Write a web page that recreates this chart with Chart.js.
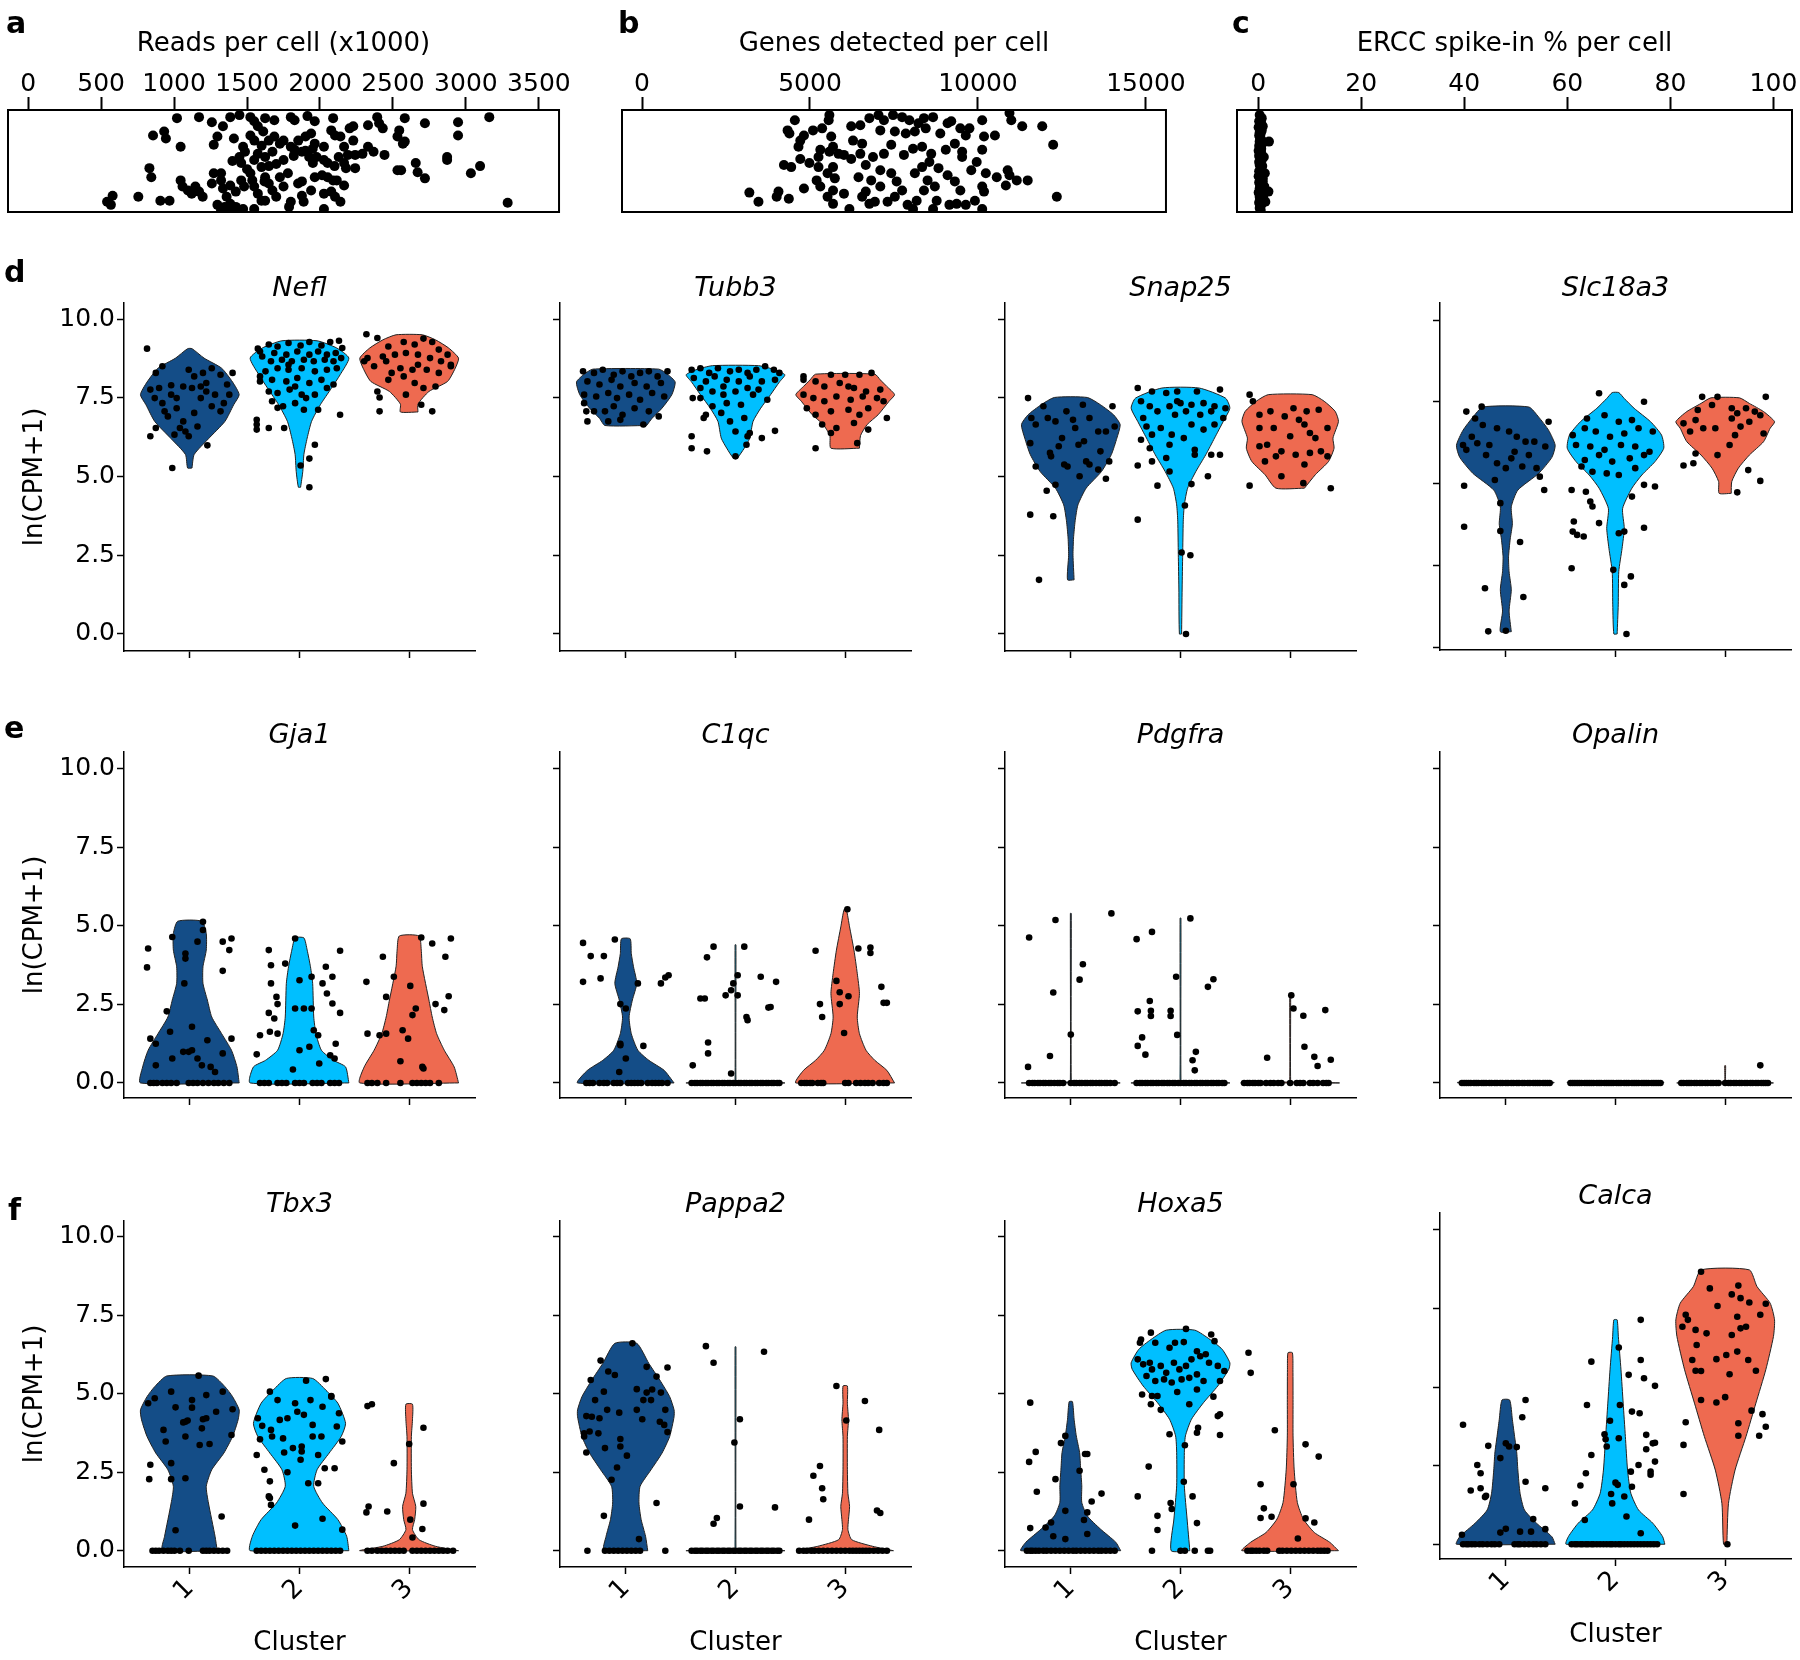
<!DOCTYPE html>
<html>
<head>
<meta charset="utf-8">
<script src="https://cdn.jsdelivr.net/npm/chart.js@4.4.1/dist/chart.umd.min.js"></script>
<style>
html, body { margin: 0; padding: 0; background: #fff; }
#fig { position: relative; width: 1800px; height: 1660px; overflow: hidden; background: #fff; font-family: 'DejaVu Sans', sans-serif; }
#fig canvas { position: absolute; }
.letter { position: absolute; font-weight: bold; font-size: 30px; line-height: 30px; color: #000; }
</style>
</head>
<body>
<div id="fig"></div>
<script>
// ---- top strips: [value, vertical jitter 0..1] ----
const readsTicks = [0, 500, 1000, 1500, 2000, 2500, 3000, 3500];
const genesTicks = [0, 5000, 10000, 15000];
const erccTicks = [0, 20, 40, 60, 80, 100];

const readsCells = [[1020,.92],[1171,.93],[1259,.88],[1335,.84],[1385,.93],[1448,.95],[1523,.93],[1549,.89],[1624,.92],[1687,.9],[1800,.93],[1826,.9],[1914,.94],[1964,.89],[2090,.92],[2228,.84],[2329,.85],[2392,.93],[2405,.87],[2581,.92],[2719,.87],[2946,.88],[3160,.93],[2430,.82],
[856,.75],[932,.79],[944,.72],[1045,.64],[1272,.66],[1297,.74],[1410,.72],[1473,.64],[1523,.75],[1574,.84],[1611,.79],[1649,.7],[1687,.74],[1725,.67],[1800,.64],[1851,.7],[1901,.74],[1939,.77],[1964,.67],[2027,.64],[2077,.8],[2103,.75],[2140,.74],[2165,.64],[2203,.82],[2228,.7],[2329,.64],[2367,.59],[2442,.56],[2531,.74],[2543,.8],[2568,.67],[2581,.69],[2946,.75],
[831,.43],[844,.34],[1272,.38],[1322,.38],[1448,.54],[1460,.48],[1486,.59],[1549,.51],[1574,.57],[1599,.44],[1624,.54],[1674,.59],[1750,.51],[1826,.61],[1876,.59],[1926,.54],[1951,.48],[1977,.54],[2027,.51],[2052,.48],[2128,.54],[2165,.48],[2191,.56],[2241,.56],[2291,.57],[2241,.43],[2178,.43],[2531,.41],[2556,.41],[2656,.48],[2669,.39],[2871,.54],[2871,.51],[3097,.45],[3034,.38],
[1045,.31],[1058,.25],[1095,.21],[1121,.18],[1146,.25],[1171,.2],[1196,.15],[1259,.28],[1322,.31],[1335,.23],[1360,.15],[1385,.26],[1423,.2],[1460,.31],[1523,.38],[1536,.31],[1549,.25],[1574,.18],[1599,.11],[1624,.34],[1649,.28],[1674,.21],[1725,.34],[1750,.25],[1876,.3],[1939,.21],[1964,.34],[2014,.36],[2052,.34],[2090,.31],[2115,.31],[2027,.18],[2077,.2],[2103,.15],[2140,.1],[2165,.26],[2719,.33],[3286,.09],[755,.15],[579,.16],[541,.1],[567,.07],[906,.11],[969,.11],[1876,.16],[1888,.1],[1800,.1],
[1297,.07],[1347,.05],[1385,.08],[1423,.05],[1473,.03],[1549,.03],[1624,.11],[1788,.05],[2027,.03],[1397,.02],[1322,.02],
[1600,.65],[1700,.47],[1750,.7],[1900,.6],[1550,.7],[1650,.45],[1780,.38],[1820,.55],[1950,.62],[2100,.45],[1500,.42],[1400,.5],[1480,.25],[1620,.3],[1700,.15],[1850,.28]];

const genesCells = [[4549,.9],[4333,.8],[4387,.77],[4820,.75],[4711,.7],[4657,.64],[5090,.8],[5361,.82],[5577,.95],[5556,.9],[5632,.74],[5686,.64],[5307,.61],[5577,.59],[5848,.57],[6011,.56],[6227,.52],[6498,.57],[6227,.84],[6498,.85],[6768,.92],[7039,.95],[7201,.9],[7472,.95],[7742,.93],[7959,.9],[8229,.87],[8392,.92],[8663,.93],[7093,.8],[7526,.79],[7851,.77],[8121,.79],[8446,.82],[8879,.77],[9096,.87],[9204,.89],[9475,.82],[9746,.82],[9637,.75],[10126,.9],[10938,.97],[10992,.9],[11317,.84],[11913,.84],[12238,.66],[10180,.74],[10505,.75],[10126,.61],[9529,.59],[9529,.54],[9962,.49],[9312,.67],[9042,.61],[8608,.57],[8337,.64],[8067,.62],[7796,.56],[7418,.66],[7201,.57],[6876,.54],[6552,.67],[6281,.7],[5253,.54],[4711,.52],[4224,.46],[4441,.44],[4982,.48],[5253,.44],[5686,.44],[5523,.38],[5740,.33],[5198,.31],[4820,.23],[5307,.25],[5686,.21],[6011,.18],[6660,.46],[6444,.34],[6822,.31],[7093,.41],[7418,.38],[7580,.3],[7742,.21],[8121,.38],[8337,.44],[8554,.49],[8825,.43],[9096,.36],[9312,.3],[9475,.21],[9800,.41],[10234,.38],[10559,.34],[10884,.41],[10938,.36],[11155,.31],[11480,.31],[10830,.26],[10126,.25],[10180,.2],[9909,.11],[9637,.07],[9366,.08],[9150,.07],[8771,.11],[8663,.03],[8175,.11],[8067,.03],[7905,.07],[7526,.15],[7309,.1],[6931,.1],[6768,.08],[6552,.15],[6173,.03],[5523,.15],[5686,.08],[4008,.15],[4062,.2],[4370,.13],[3195,.19],[3466,.1],[10126,.03],[12347,.15],[8500,.31],[8392,.21],[8717,.25],[7093,.25],[6660,.2]];

const erccCells = [[0.3,.95],[0.5,.91],[0.2,.89],[0.6,.87],[0.4,.85],[0.1,.83],[0.7,.8],[0.9,.84],[0.3,.78],[0.5,.77],[0.2,.75],[0.4,.72],[0.6,.71],[0.3,.69],[2.1,.69],[0.8,.67],[0.2,.65],[0.5,.63],[0.4,.61],[0.1,.6],[0.6,.58],[0.3,.56],[1.1,.54],[0.5,.53],[0.7,.51],[0.2,.49],[0.4,.47],[0.3,.46],[0.6,.44],[0.5,.42],[0.2,.4],[1.3,.38],[0.4,.37],[0.3,.35],[0.9,.33],[0.5,.31],[0.2,.29],[0.7,.28],[0.4,.26],[1.2,.25],[0.3,.23],[0.6,.21],[2.0,.2],[0.1,.19],[0.5,.17],[0.3,.15],[0.4,.13],[0.8,.12],[1.4,.1],[0.2,.09],[0.6,.07],[0.4,.05],[0.3,.04],[0.5,.02],[0.7,.92],[0.6,.62],[0.8,.45],[0.9,.3],[1.0,.14],[0.2,.55],[0.1,.35],[0.3,.1]];

// ---- violins ----
const clusters = ['1', '2', '3'];
const yTicks = [0, 2.5, 5, 7.5, 10];
// outlines: [ln(CPM+1), half width in cluster units] from bottom to top
const neflShape = [
  [[5.27,.02],[5.7,.04],[6.2,.17],[6.75,.32],[7.28,.4],[7.6,.45],[8.0,.39],[8.44,.29],[8.76,.13],[9.06,.02]],
  [[4.66,.01],[5.16,.03],[5.7,.04],[6.22,.07],[6.75,.11],[7.28,.19],[7.8,.29],[8.23,.37],[8.76,.45],[9.08,.34],[9.31,.16]],
  [[7.05,.08],[7.3,.08],[7.7,.18],[8.02,.35],[8.44,.42],[8.76,.45],[9.08,.36],[9.34,.24],[9.5,.12]]];
const tubb3Shape = [
  [[6.62,.19],[6.85,.24],[7.17,.33],[7.6,.42],[8.0,.45],[8.25,.38],[8.41,.3]],
  [[5.59,.02],[5.9,.08],[6.22,.13],[6.75,.16],[7.17,.23],[7.6,.32],[8.0,.4],[8.23,.45],[8.39,.36],[8.52,.21]],
  [[5.9,.13],[6.3,.14],[6.65,.2],[6.96,.3],[7.39,.4],[7.6,.45],[7.86,.38],[8.07,.32],[8.25,.27]]];
const snap25Shape = [
  [[1.72,.03],[2.5,.02],[3.05,.025],[3.6,.04],[4.1,.065],[4.63,.14],[5.16,.28],[5.7,.37],[6.22,.42],[6.65,.45],[6.96,.39],[7.28,.27],[7.51,.15]],
  [[0,.01],[1.46,.015],[2.52,.02],[3.58,.025],[4.1,.035],[4.63,.065],[5.16,.14],[5.69,.23],[6.22,.31],[6.75,.39],[7.17,.45],[7.49,.41],[7.81,.17]],
  [[4.63,.13],[5.06,.23],[5.48,.35],[5.9,.4],[6.22,.39],[6.75,.44],[7.07,.41],[7.39,.31],[7.6,.2]]];
const slc18a3Shape = [
  [[0.47,.05],[1.1,.03],[1.75,.05],[2.3,.03],[2.76,.025],[3.3,.04],[3.77,.06],[4.29,.05],[4.8,.11],[5.31,.3],[5.8,.42],[6.17,.45],[6.63,.39],[7.03,.3],[7.34,.21]],
  [[0.4,.015],[1.29,.025],[2.31,.03],[3.02,.06],[3.63,.08],[4.24,.065],[4.86,.15],[5.26,.24],[5.67,.36],[6.08,.44],[6.48,.42],[6.89,.32],[7.3,.17],[7.6,.08],[7.78,.03]],
  [[4.7,.055],[5.06,.06],[5.47,.12],[5.87,.22],[6.28,.35],[6.69,.41],[6.89,.45],[7.2,.35],[7.45,.22],[7.62,.13]]];
const gja1Shape = [
  [[0,.45],[0.51,.43],[1.04,.38],[1.57,.29],[2.1,.2],[2.64,.16],[3.17,.12],[3.7,.12],[4.23,.15],[4.76,.15],[5.15,.11]],
  [[0,.45],[0.51,.42],[0.72,.31],[1.04,.2],[1.57,.15],[2.1,.13],[3.17,.12],[3.7,.1],[4.23,.07],[4.62,.04]],
  [[0,.45],[0.51,.41],[1.04,.32],[1.57,.25],[2.1,.21],[2.64,.18],[3.7,.12],[4.23,.11],[4.68,.09]]];
const c1qcShape = [
  [[0,.44],[0.4,.35],[0.72,.21],[1.04,.11],[1.57,.05],[2.1,.03],[2.64,.06],[3.17,.1],[3.7,.07],[4.12,.05],[4.59,.04]],
  [[0,.45],[0.03,.02],[0.1,.004],[4.4,.004]],
  [[0,.45],[0.4,.38],[0.72,.27],[1.04,.19],[1.57,.13],[2.1,.11],[2.85,.13],[3.49,.11],[4.23,.08],[4.97,.04],[5.53,.01]]];
const pdgfraShape = [
  [[0,.45],[0.03,.02],[0.1,.004],[5.4,.004]],
  [[0,.45],[0.03,.02],[0.1,.004],[5.25,.004]],
  [[0,.45],[0.03,.02],[0.1,.004],[2.8,.004]]];
const opalinShape = [
  [[0,.44],[0.02,.44]],
  [[0,.44],[0.02,.44]],
  [[0,.44],[0.03,.02],[0.1,.004],[0.55,.004]]];
const tbx3Shape = [
  [[0,.25],[0.46,.23],[1.52,.17],[2.05,.15],[2.58,.2],[3.11,.31],[3.64,.39],[4.17,.44],[4.49,.45],[4.91,.39],[5.23,.32],[5.57,.21]],
  [[0,.45],[0.46,.43],[0.99,.35],[1.52,.21],[2.05,.13],[2.58,.16],[3.11,.27],[3.64,.38],[4.06,.42],[4.7,.35],[5.12,.24],[5.49,.12]],
  [[0,.45],[0.14,.24],[0.35,.09],[0.67,.03],[0.99,.05],[1.41,.06],[1.83,.03],[2.58,.02],[3.64,.02],[4.17,.03],[4.67,.03]]];
const pappa2Shape = [
  [[0,.2],[0.46,.18],[0.99,.14],[1.52,.12],[2.05,.13],[2.58,.23],[3.11,.33],[3.64,.4],[4.27,.44],[4.49,.44],[4.91,.4],[5.44,.31],[5.97,.21],[6.61,.1]],
  [[0,.45],[0.03,.02],[0.1,.004],[6.5,.004]],
  [[0,.44],[0.14,.25],[0.35,.06],[0.67,.025],[0.99,.03],[1.41,.04],[1.83,.025],[2.58,.02],[3.64,.02],[4.17,.03],[4.7,.02],[5.25,.02]]];
const hoxa5Shape = [
  [[0,.455],[0.27,.41],[0.69,.27],[1.11,.15],[1.54,.1],[2.07,.1],[2.6,.09],[3.13,.08],[3.66,.05],[4.19,.03],[4.75,.015]],
  [[0,.085],[1.01,.06],[2.07,.035],[3.13,.035],[3.66,.045],[4.19,.1],[4.72,.21],[5.25,.34],[5.78,.44],[5.99,.45],[6.42,.38],[6.73,.27],[7.03,.13]],
  [[0,.44],[0.27,.36],[0.58,.22],[1.01,.12],[1.54,.065],[2.6,.036],[3.66,.026],[4.72,.026],[5.78,.025],[6.31,.02]]];
const calcaShape = [
  [[0,.45],[0.24,.42],[0.67,.28],[1.09,.17],[1.62,.13],[2.36,.11],[2.9,.1],[3.43,.08],[3.96,.06],[4.59,.035]],
  [[0,.45],[0.24,.43],[0.67,.34],[1.09,.21],[1.62,.14],[2.36,.11],[3.43,.09],[4.49,.07],[5.55,.05],[6.61,.026],[7.14,.015]],
  [[0,.015],[1.3,.03],[2.36,.09],[3.43,.19],[4.49,.28],[5.55,.37],[6.61,.44],[7.14,.45],[7.67,.41],[8.2,.29],[8.73,.22]]];

// cells: flat [jitter offset, ln(CPM+1)] pairs per cluster
const neflDots = [
  [-.39,9.06,-.25,8.5,-.31,8.29,-.17,7.9,-.36,7.76,-.32,7.49,-.25,7.33,-.17,7.6,-.12,7.17,-.23,7.07,-.06,7.86,-.01,8.39,.04,8.18,.12,8.29,.15,7.97,.2,8.44,.28,8.23,.39,8.29,.34,7.92,.36,7.6,.31,7.33,.28,7.07,.2,7.23,.1,7.49,.04,7.02,-.06,6.75,-.04,6.43,-.01,6.28,-.09,6.54,-.2,6.91,-.31,6.54,-.36,6.28,.16,5.99,-.16,5.27,.07,6.59,-.14,6.33,.02,7.81,-.12,7.49,.15,7.7,.23,7.6,-.28,7.81,.1,7.86],
  [-.38,9.06,-.28,9.19,-.2,9.13,-.1,9.24,.01,9.16,.09,9.27,.2,9.16,.28,9.27,.36,9.31,.39,9.08,.33,8.92,.25,8.87,.17,8.97,.09,8.87,-.02,8.97,-.12,8.87,-.23,8.92,-.34,8.81,-.36,8.97,-.26,8.66,-.16,8.71,-.07,8.66,.04,8.71,.13,8.66,.23,8.71,.31,8.66,.38,8.76,.34,8.44,.25,8.39,.14,8.34,.02,8.44,-.1,8.39,-.2,8.44,-.31,8.34,-.36,8.18,-.25,8.07,-.12,8.02,-.02,8.13,.09,7.97,.2,8.07,.31,7.92,-.36,8.02,-.28,7.7,-.2,7.65,-.09,7.76,.02,7.6,.14,7.6,.25,7.81,-.25,7.39,-.15,7.23,-.04,7.33,.04,7.12,.17,7.12,-.2,7.18,.06,7.49,.37,6.96,-.39,6.8,-.39,6.65,-.39,6.49,-.28,6.54,-.14,6.54,.14,6.01,.09,5.57,.01,5.35,.09,4.66,-.1,8.55,-.04,7.86],
  [-.39,9.52,-.29,9.4,-.19,9.13,-.05,9.27,.05,9.19,.13,9.38,.21,9.27,.27,9.03,.35,8.87,.38,8.55,.29,8.66,.19,8.76,.08,8.87,-.03,8.92,-.13,8.87,-.24,8.81,-.38,8.76,-.41,8.66,-.32,8.5,-.21,8.66,-.08,8.44,.03,8.39,.16,8.39,.27,8.29,.38,8.5,-.19,8.07,-.05,8.18,.05,7.97,.13,7.81,.24,7.86,-.29,7.7,-.27,7.51,-.27,7.07,.21,7.07,.11,7.28,-.03,7.6,-.16,8.29,.08,8.55]];
const tubb3Dots = [
  [-.39,8.34,-.29,8.29,-.21,8.39,-.11,8.23,-.03,8.34,.05,8.18,.13,8.29,.21,8.34,.29,8.18,.38,8.34,-.35,8.02,-.24,7.92,-.13,8.07,-.05,7.86,.08,7.97,.19,7.86,.32,7.97,-.38,7.6,-.27,7.54,-.16,7.65,-.08,7.49,.03,7.6,.13,7.44,.24,7.65,.35,7.54,-.38,7.33,-.36,7.07,-.35,6.75,-.19,7.07,-.11,7.23,-.03,6.96,.08,7.17,.21,7.07,.3,6.91,-.16,6.75,-.05,6.8,.16,6.65,-.29,7.07],
  [-.4,8.39,-.32,8.44,-.24,8.29,-.16,8.44,-.05,8.34,.03,8.39,.11,8.29,.19,8.39,.27,8.5,.35,8.39,.4,8.29,-.38,8.13,-.27,8.02,-.19,8.18,-.08,8.07,.03,8.02,.13,8.18,.24,8.02,.36,8.07,-.32,7.81,-.21,7.7,-.11,7.86,0,7.7,.11,7.81,.21,7.76,.29,7.44,-.39,7.49,-.32,7.49,-.21,7.23,-.08,7.33,.05,7.28,-.27,6.96,-.29,6.86,-.13,7.02,-.05,6.75,.08,6.86,0,6.43,.13,6.38,.11,6.28,.24,6.22,.36,6.45,-.4,6.28,-.4,5.9,-.26,5.8,0,5.64,.1,6.01,-.11,7.6,.16,7.6],
  [-.38,8.18,-.38,8.07,-.27,8.02,-.13,8.23,0,8.23,.13,8.23,.24,8.29,-.19,7.86,-.05,7.97,.08,7.81,.19,7.7,.32,7.76,-.38,7.6,-.29,7.49,-.19,7.39,-.08,7.54,.05,7.44,.16,7.54,.29,7.49,.35,7.39,-.35,7.17,-.27,6.96,-.13,7.07,.03,7.12,.13,6.96,.21,7.17,.38,6.86,-.21,6.65,-.08,6.54,.08,6.7,.21,6.49,-.13,6.38,-.27,5.9,.11,6.06,.03,7.86]];
const snap25Dots = [
  [-.39,7.49,-.25,7.23,-.36,6.86,-.32,6.65,-.21,6.86,-.14,6.75,-.08,6.22,.02,6.8,.11,7.28,.17,6.86,.04,6.54,.12,6.12,.25,6.43,.32,6.43,.4,6.59,.38,7.23,-.37,6.06,-.19,5.75,-.18,5.64,-.32,5.32,-.06,5.38,-.03,5.32,.08,5.01,.14,5.48,.17,5.38,.27,5.8,.35,5.48,.25,5.22,.32,4.93,-.14,4.74,-.22,4.55,-.37,3.79,-.16,3.74,-.29,1.72,-.04,7.07,-.11,5.96,.07,6.01],
  [-.39,7.81,-.26,7.7,-.13,7.65,-.03,7.7,.15,7.7,.36,7.76,-.36,7.39,-.28,7.23,-.1,7.23,0,7.33,.1,7.28,.21,7.33,.31,7.23,.41,7.17,-.34,6.86,-.21,7.07,-.05,6.96,.05,7.07,.18,6.96,.28,7.07,.39,6.86,-.31,6.59,-.18,6.54,-.08,6.33,.1,6.65,.21,6.49,.31,6.65,-.36,6.17,-.26,6.33,-.1,6.01,.03,6.22,.13,5.85,.28,5.69,.36,5.69,-.28,5.9,-.26,5.48,-.39,5.35,-.13,5.59,-.1,5.16,.13,5.69,.25,5.01,-.21,4.71,.1,4.76,-.39,3.63,.04,4.08,.01,2.59,.09,2.5,.05,0,-.03,7.39],
  [-.37,7.6,-.34,7.39,-.18,7.07,.03,7.17,.15,7.07,.26,7.12,-.05,6.91,.08,6.8,.13,6.65,-.28,6.96,-.15,6.54,0,6.28,.18,6.38,.34,6.54,-.28,5.96,-.21,6.01,-.08,5.8,.05,5.69,.18,5.75,.28,5.8,.34,5.64,-.23,5.48,-.13,5.64,.13,5.38,-.08,5.01,.12,4.79,-.37,4.71,.37,4.63,-.28,6.54,.23,6.22]];
const slc18a3Dots = [
  [-.36,7.2,-.22,7.35,-.28,6.99,-.21,6.79,-.39,6.18,-.36,6.03,-.26,6.23,-.15,6.18,-.18,5.87,-.08,6.69,.03,6.59,.1,6.43,.18,6.28,.26,6.28,.36,6.13,.39,6.89,.08,5.97,-.08,5.62,0,5.47,.15,5.52,.28,5.47,.31,5.21,-.1,5.11,-.38,4.93,.35,4.8,-.05,4.4,-.38,3.68,-.05,3.55,.13,3.21,-.19,1.8,.16,1.53,-.16,.48,0,.5,-.31,6.43,.05,5.77,.21,5.87],
  [-.15,7.76,.26,7.5,-.26,6.99,-.1,7.09,.03,6.89,.15,6.94,-.39,6.48,-.28,6.69,-.18,6.59,-.05,6.43,.08,6.53,.21,6.69,.34,6.59,-.36,6.18,-.23,6.13,-.1,6.03,.05,6.18,.18,6.13,.31,5.97,-.28,5.72,-.15,5.87,-.03,5.67,.13,5.77,.26,5.87,-.31,5.52,-.21,5.36,-.08,5.31,.03,5.26,.18,5.47,.26,4.96,.36,4.91,-.4,4.8,-.27,4.75,-.23,4.45,-.21,4.3,.15,4.6,-.38,3.84,-.39,3.53,-.35,3.43,-.29,3.38,-.15,3.79,.03,3.48,.08,3.53,.26,3.65,-.4,2.41,-.02,2.36,.14,2.16,.08,1.9,.1,.4],
  [-.21,7.65,-.07,7.65,.37,7.65,-.25,7.25,-.12,7.4,.06,7.3,.19,7.3,.11,7.15,.27,7.2,-.38,6.84,-.32,6.59,-.27,6.94,-.2,6.69,-.09,6.69,.06,6.99,.14,6.74,.22,6.89,.35,6.53,.09,6.48,.32,7.09,.04,6.18,-.27,5.92,-.29,5.62,-.38,5.55,-.07,5.87,.21,5.41,.32,5.08,.11,4.73]];
const gja1Dots = [
  [-.38,4.28,-.39,3.68,-.36,1.41,-.31,1.25,-.31,.56,-.21,2.28,-.18,1.63,-.16,4.65,-.16,.78,-.06,.99,-.05,3.17,-.04,3.96,-.04,4.12,-.01,.99,.02,1.79,.02,1.04,.07,.78,.11,.56,.12,4.87,.12,5.13,.07,4.5,.16,1.36,.19,.51,.23,.35,.3,.94,.3,3.57,.3,4.5,.38,4.6,.36,4.23,.38,1.41],
  [-.39,.91,-.36,1.52,-.28,2.23,-.27,1.63,-.26,3.17,-.26,3.75,-.23,2.05,-.21,2.74,-.2,2.51,-.28,4.23,-.2,1.57,-.13,3.8,-.06,.43,-.04,2.37,0,3.27,0,1.04,-.04,4.6,.04,2.37,.09,1.15,.11,2.37,.11,3.38,.13,1.68,.17,1.52,.18,.62,.21,3.17,.24,3.7,.25,2.85,.28,.88,.3,3.38,.32,.78,.3,2.53,.33,1.25,.37,2.23,.37,4.21],
  [-.39,3.22,-.38,1.57,-.27,1.52,-.24,4.02,-.21,1.57,-.21,2.74,-.14,3.38,-.08,.69,-.06,1.68,-.01,1.41,.01,3.09,.03,2.16,.06,2.37,.11,4.63,.12,.51,.13,.46,.21,4.44,.24,2.51,.33,4.02,.32,2.32,.36,2.76,.38,4.6]];
const c1qcDots = [
  [-.39,4.46,-.32,4.04,-.2,4.04,-.1,4.57,-.39,3.22,-.23,3.33,.11,3.17,.32,3.17,.36,3.36,.39,3.43,-.05,2.51,0,2.37,-.05,1.25,-.05,1.2,.16,1.18,0,.78,-.06,.35],
  [-.39,.56,-.32,2.69,-.28,2.69,-.26,4.0,-.2,4.34,-.25,.94,-.25,1.29,-.09,2.79,-.04,2.95,-.02,3.17,.02,3.43,.02,2.79,.08,4.34,-.04,.3,.1,2.1,.11,2.0,.23,3.38,.3,2.4,.32,2.42,.37,3.22],
  [-.27,4.21,-.23,2.51,-.21,2.1,-.08,3.25,-.05,2.89,-.05,2.51,.03,2.76,.02,5.53,-.01,1.59,.12,4.28,.23,4.31,.23,4.14,.33,3.06,.35,2.55,.38,2.55]];
const pdgfraDots = [
  [-.38,4.63,-.14,5.19,-.16,2.88,0,1.54,.08,3.29,.11,3.78,.37,5.4,-.19,.86,-.39,.51],
  [-.4,4.58,-.26,4.81,-.39,2.28,-.28,2.61,-.27,2.3,-.27,2.13,-.09,2.3,-.09,2.13,-.04,3.38,-.03,1.53,.09,5.24,.25,3.06,.3,3.3,-.39,1.18,-.35,1.45,-.32,.9,.14,.99,.11,.72,.13,.4],
  [-.21,.8,.01,2.79,.03,2.37,.12,2.14,.13,1.15,.22,.83,.25,.54,.32,2.32,.37,.74]];
const opalinDots = [[], [], [.32,.56]];
const tbx3Dots = [
  [.08,5.58,-.38,4.7,-.32,4.86,-.17,5.07,.15,4.96,.3,5.07,.39,4.51,-.13,4.57,.02,4.56,.02,4.8,-.06,4.09,-.02,4.15,.12,4.19,.15,4.22,.24,4.43,.11,3.9,-.24,3.85,-.22,3.48,-.04,3.64,.09,3.37,.18,3.4,.38,3.69,-.36,2.74,-.37,2.28,-.17,2.79,-.17,2.28,-.04,2.31,.29,1.09,-.13,.65,-.04,4.11],
  [-.27,5.07,.06,5.42,.24,5.47,-.2,4.8,-.04,4.7,.1,4.8,.29,4.91,.29,4.93,-.38,4.22,-.34,3.98,-.26,3.85,-.18,4.17,-.11,4.22,-.02,4.43,.04,4.33,.12,4.01,.21,4.59,.36,4.38,.34,3.96,.39,3.48,-.36,3.55,-.25,3.64,-.15,3.58,-.06,3.27,.02,3.32,.02,3.16,.12,3.64,.2,3.64,.17,3.05,.01,2.9,-.14,3.13,-.39,3.05,-.32,2.58,-.27,2.21,-.28,1.73,-.26,1.46,-.27,1.68,-.11,2.5,.08,2.15,.17,2.15,.23,2.63,.32,2.63,-.04,.8,.21,1.02,.39,.67],
  [-.38,4.61,-.34,4.67,.13,3.92,0,3.4,-.14,2.79,-.37,1.41,-.39,1.22,-.2,1.25,.13,1.5,.01,.99,.12,.69,.03,.42]];
const pappa2Dots = [
  [.06,6.61,-.23,6.06,.38,5.84,.19,5.86,-.16,5.71,-.1,5.6,-.32,5.44,.28,5.55,-.2,5.07,.1,5.15,.24,5.14,.19,5.04,.32,5.04,-.28,4.8,.16,4.8,.23,4.8,-.17,4.49,.1,4.49,.36,4.49,-.06,4.4,-.36,4.29,-.31,4.27,-.24,4.22,.15,4.19,.31,4.11,.35,4.01,-.38,3.74,-.33,3.8,-.25,3.74,.38,3.78,-.38,3.64,-.05,3.56,-.19,3.27,-.05,3.32,.01,3.03,-.36,3.13,-.08,2.65,-.13,2.26,.28,1.52,-.2,1.11,.12,.37],
  [-.27,6.52,-.2,5.99,.26,6.34,.04,4.19,-.01,3.45,.04,1.41,.36,1.38,-.17,1.04,-.2,.86],
  [-.08,5.25,.18,4.77,.01,4.15,.31,3.85,-.23,2.7,-.29,2.39,-.21,1.99,-.2,1.64,.29,1.28,.32,1.2,-.33,.99]];
const hoxa5Dots = [
  [-.37,4.72,-.32,3.15,-.38,2.83,-.31,1.88,-.14,2.28,-.09,3.43,-.05,3.66,.13,3.08,.15,3.08,.08,2.55,.19,1.57,.28,1.82,.15,1.22,.12,.98,-.05,1.27,-.18,.9,-.23,.74,-.37,.72,-.16,.46,-.05,.37,.15,.53],
  [-.27,6.95,-.36,6.73,-.37,6.63,-.23,6.63,-.1,6.47,-.05,6.63,.05,7.07,.03,6.65,.15,6.36,.23,6.26,.28,6.89,.31,6.68,-.39,6.1,-.34,5.94,-.28,5.99,-.26,5.78,-.18,5.89,-.13,5.67,-.06,5.99,-.01,5.78,.05,5.89,.1,6.1,.18,6.2,.26,5.99,.34,5.89,.4,5.73,-.31,5.57,-.23,5.41,-.15,5.46,-.08,5.36,.01,5.46,.08,5.51,.15,5.62,.21,5.41,.36,5.41,-.35,4.98,-.26,4.93,-.21,4.93,-.03,5.06,.15,5.14,.3,4.91,.08,4.67,-.27,4.67,-.18,4.49,.34,4.29,.36,4.35,.16,3.92,.15,3.76,-.1,3.71,.36,3.69,.04,3.36,-.29,2.68,.03,2.2,-.39,1.73,-.09,1.52,.11,1.73,-.21,1.11,-.08,1.33,-.21,.66,.15,.88],
  [-.38,6.31,-.36,5.67,-.14,3.84,.14,3.39,.26,3.0,-.27,2.12,.03,2.12,-.24,1.35,-.27,1.04,-.17,1.08,.14,1.03,.22,.9,.07,.39]];
const calcaDots = [
  [-.39,3.8,.18,4.59,.15,4.04,0,3.21,.03,3.11,.1,3.09,-.16,3.13,-.05,2.74,-.26,2.52,-.23,2.26,.18,1.99,-.32,1.71,-.23,1.78,-.19,1.5,-.18,1.54,.36,1.78,.25,.8,0,.49,.13,.4,.36,.48,-.4,.3,-.05,.37,.23,.4],
  [.23,7.14,.03,6.26,-.22,5.81,.23,5.86,.12,5.39,.26,5.28,.36,5.04,-.26,4.43,.04,4.43,.15,4.22,.22,4.17,-.05,3.93,.28,3.48,-.1,3.5,.03,3.37,-.09,3.34,.34,3.21,.36,3.23,.28,3.02,-.22,2.84,-.08,3.11,.36,2.63,.21,2.52,-.27,2.26,.14,2.31,.32,2.31,.32,2.21,0,1.96,.02,1.89,-.32,1.87,.15,1.83,-.04,1.6,.08,1.52,-.03,1.3,-.37,1.3,.1,.88,-.28,.77,.23,.35],
  [-.22,8.67,-.14,8.14,.12,8.23,.06,7.95,.14,7.83,.22,7.69,.37,7.65,-.07,7.58,.11,7.24,.32,7.3,-.36,7.3,-.34,7.14,-.39,6.92,-.27,6.82,-.17,6.71,.06,6.66,.14,6.87,.19,6.92,-.26,6.34,.11,6.13,.01,6.02,-.3,5.86,-.08,5.89,.21,5.86,-.27,5.52,-.22,5.51,.28,5.52,.04,5.41,-.22,4.59,0,4.68,-.08,4.51,.24,4.25,.34,4.14,-.36,3.88,.12,3.85,.37,3.74,.31,3.45,.12,3.45,-.38,3.16,-.38,1.6,.02,0]];

// jitter offsets of cells sitting at exactly 0
const noZeros = [[], [], []];
const gja1Zero = [[-.36,-.3,-.25,-.17,-.12,-.01,.07,.12,.17,.26,.36,-.33,-.21,.03,.22,.31],[-.36,-.28,-.2,-.12,-.04,.04,.12,.2,.28,.36,-.32,-.16,.0,.16,.32],[-.38,-.29,-.21,-.08,.03,.11,.19,.27,-.34,.07,.15]];
const c1qcZero = [[-.36,-.3,-.24,-.17,-.11,-.05,.02,.08,.14,.2,.27,.33,.38,-.33,-.2,-.08,.05,.11,.24,.3],[-.4,-.35,-.3,-.25,-.2,-.15,-.1,-.05,0,.05,.1,.15,.2,.25,.3,.35,.4,-.37,-.32,-.27,-.22,-.17,-.12,-.07,-.02,.03,.08,.13,.18,.23,.28,.33,.38],[-.4,-.35,-.3,-.25,-.2,0,.03,.1,.18,.25,.35,.38,-.37,-.32,-.22,.14,.21,.31]];
const pdgfraZero = [[-.38,-.33,-.28,-.23,-.18,-.12,-.07,0,.05,.1,.15,.2,.26,.31,.36,.4,-.35,-.3,-.25,-.2,-.15,-.1,.03,.08,.13,.18,.23,.28,.33],[-.4,-.35,-.3,-.25,-.2,-.15,-.1,-.05,0,.05,.1,.15,.2,.25,.3,.35,.4,-.37,-.32,-.27,-.22,-.17,-.12,-.07,-.02,.03,.08,.13,.18,.23,.28,.33,.38],[-.42,-.37,-.32,-.27,-.22,-.15,-.08,0,.06,.12,.18,.25,.3,.35,-.39,-.34,-.29,-.18,-.11,.09,.21,.33]];
const opalinZero = [[-.4,-.36,-.32,-.27,-.22,-.18,-.13,-.08,-.03,.02,.07,.12,.17,.22,.27,.31,.36,.4,-.38,-.34,-.29,-.25,-.2,-.15,-.1,-.05,0,.05,.1,.15,.2,.25,.29,.34,.38],[-.41,-.37,-.33,-.28,-.24,-.2,-.15,-.1,-.06,-.02,.03,.08,.12,.17,.21,.26,.3,.35,.39,.41,-.39,-.35,-.31,-.26,-.22,-.17,-.13,-.08,-.04,.01,.05,.1,.15,.19,.24,.28,.33,.37],[-.4,-.35,-.31,-.26,-.21,-.16,-.11,-.06,0,.05,.1,.15,.2,.25,.3,.35,.39,-.38,-.33,-.28,-.23,-.18,-.13,-.08,.03,.08,.13,.18,.23,.28,.33,.37]];
const tbx3Zero = [[-.34,-.28,-.2,-.14,-.09,-.01,.12,.18,.26,.34,-.31,-.24,-.17,.15,.22,.3],[-.39,-.31,-.23,-.15,-.07,.01,.09,.17,.25,.33,-.35,-.27,-.19,-.11,-.03,.05,.13,.21,.29,.37],[-.38,-.29,-.21,-.13,-.05,.03,.11,.19,.27,.35,.4,-.34,-.25,-.17,-.09,.07,.15,.23,.31]];
const pappa2Zero = [[-.35,-.19,-.11,-.03,.05,.13,.36,-.15,-.07,.01,.09],[-.4,-.35,-.3,-.25,-.2,-.15,-.1,-.05,0,.05,.1,.15,.2,.25,.3,.35,.4,-.37,-.32,-.27,-.22,-.17,-.12,-.07,-.02,.03,.08,.13,.18,.23,.28,.33,.38],[-.42,-.35,-.28,-.2,-.12,-.04,.04,.1,.16,.22,.3,.38,-.38,-.31,-.24,-.16,-.08,.0,.07,.13,.19,.26,.34]];
const hoxa5Zero = [[-.4,-.35,-.29,-.22,-.14,-.06,.02,.09,.17,.25,.32,.4,-.37,-.32,-.25,-.18,-.1,-.02,.05,.13,.21,.28,.36],[-.26,0,.04,.13,.25,.27],[-.39,-.34,-.28,-.21,-.1,-.03,.05,.13,.21,.28,.34,-.36,-.31,-.24,-.07,.01,.09,.17,.25,.31]];
const calcaZero = [[-.39,-.34,-.28,-.21,-.13,-.06,.08,.13,.21,.28,.36,-.36,-.31,-.24,-.17,-.1,.11,.17,.25,.32],[-.4,-.35,-.3,-.25,-.2,-.14,-.08,-.03,.03,.08,.14,.2,.26,.32,.38,-.37,-.32,-.27,-.22,-.17,-.11,-.05,0,.05,.11,.17,.23,.29,.35],[]];

const geneData = {
  Nefl: [neflShape, neflDots, noZeros], Tubb3: [tubb3Shape, tubb3Dots, noZeros],
  Snap25: [snap25Shape, snap25Dots, noZeros], Slc18a3: [slc18a3Shape, slc18a3Dots, noZeros],
  Gja1: [gja1Shape, gja1Dots, gja1Zero], C1qc: [c1qcShape, c1qcDots, c1qcZero],
  Pdgfra: [pdgfraShape, pdgfraDots, pdgfraZero], Opalin: [opalinShape, opalinDots, opalinZero],
  Tbx3: [tbx3Shape, tbx3Dots, tbx3Zero], Pappa2: [pappa2Shape, pappa2Dots, pappa2Zero],
  Hoxa5: [hoxa5Shape, hoxa5Dots, hoxa5Zero], Calca: [calcaShape, calcaDots, calcaZero]
};

// ---- layout ----
const clusterColors = ['#144D87', '#00BFFF', '#EE6A50'];
const colX = [124, 560, 1005, 1440];
const plotW = 351;
const rows = [
  { genes: ['Nefl', 'Tubb3', 'Snap25', 'Slc18a3'], titleTop: 275, top: 303, axisY: 651, bottomEdge: 668, min: -0.54, max: 10.51, xLabels: false },
  { genes: ['Gja1', 'C1qc', 'Pdgfra', 'Opalin'], titleTop: 722, top: 752, axisY: 1098, bottomEdge: 1115, min: -0.48, max: 10.54, xLabels: false },
  { genes: ['Tbx3', 'Pappa2', 'Hoxa5', 'Calca'], titleTop: 1191, top: 1221, axisY: 1567, bottomEdge: 1660, min: -0.52, max: 10.51, xLabels: true, clusterPad: 4 }
];
const panelOverrides = {
  Slc18a3: { axisY: 650, min: -0.09, max: 10.52 },
  Calca: { titleTop: 1183, top: 1213, axisY: 1559, min: -0.47, max: 10.54, clusterPad: 12 }
};

Chart.defaults.font.family = "'DejaVu Sans', sans-serif";
Chart.defaults.color = '#000';

const fig = document.getElementById('fig');

function addCanvas(left, top, w, h) {
  const c = document.createElement('canvas');
  c.width = w; c.height = h;
  c.style.left = left + 'px'; c.style.top = top + 'px';
  c.style.width = w + 'px'; c.style.height = h + 'px';
  fig.appendChild(c);
  return c;
}

function addLetter(text, left, top) {
  const d = document.createElement('div');
  d.className = 'letter';
  d.textContent = text;
  d.style.left = left + 'px'; d.style.top = top + 'px';
  fig.appendChild(d);
}

function fixedTicks(values) {
  return scale => { scale.ticks = values.map(v => ({ value: v })); };
}

const frame = {
  id: 'frame',
  afterDraw(chart) {
    const a = chart.chartArea, ctx = chart.ctx;
    ctx.save();
    ctx.strokeStyle = '#000';
    ctx.lineWidth = 2;
    ctx.strokeRect(a.left, a.top, a.right - a.left, a.bottom - a.top);
    ctx.restore();
  }
};

function stripPanel(cells, boxLeft, boxRight, range, ticks, title) {
  const canvas = addCanvas(boxLeft - 8, 0, boxRight - boxLeft + 16, 220);
  new Chart(canvas, {
    type: 'scatter',
    data: { datasets: [{ data: cells.map(c => ({ x: c[0], y: c[1] })), pointRadius: 5, pointBackgroundColor: '#000', pointBorderWidth: 0 }] },
    options: {
      responsive: false, animation: false, devicePixelRatio: 1,
      layout: { padding: { left: 8, right: 8, top: 0, bottom: 8 }, autoPadding: false },
      plugins: { legend: { display: false }, tooltip: { enabled: false } },
      scales: {
        x: {
          type: 'linear', position: 'top', min: range[0], max: range[1],
          afterBuildTicks: fixedTicks(ticks),
          afterFit: s => { s.height = 110; },
          ticks: { autoSkip: false, maxRotation: 0, padding: 0, color: '#000', font: { size: 25, lineHeight: 1 }, callback: v => String(v) },
          grid: { drawOnChartArea: false, tickLength: 13, tickColor: '#000', tickWidth: 2 },
          border: { display: true, color: '#000', width: 2 },
          title: { display: true, text: title, color: '#000', font: { size: 26, lineHeight: 1 }, padding: { top: 31, bottom: 0 } }
        },
        y: { display: false, min: 0, max: 1 }
      }
    },
    plugins: [frame]
  });
}

function outline(center, shape) {
  const right = shape.map(p => ({ x: center + p[1], y: p[0] }));
  const left = shape.slice().reverse().map(p => ({ x: center - p[1], y: p[0] }));
  return right.concat(left, [right[0]]);
}

function cellPoints(center, flat, zeros) {
  const pts = [];
  for (let i = 0; i + 1 < flat.length; i += 2) pts.push({ x: center + flat[i], y: flat[i + 1] });
  zeros.forEach(dx => pts.push({ x: center + dx, y: 0 }));
  return pts;
}

function violinPanel(gene, col, row) {
  const g = Object.assign({}, row, panelOverrides[gene] || {});
  const [shapes, dots, zeros] = geneData[gene];
  const first = col === 0;
  const x0 = colX[col];
  const left = first ? 0 : x0 - 12;
  const canvas = addCanvas(left, g.titleTop, x0 + plotW + 4 - left, g.bottomEdge - g.titleTop);

  const datasets = [];
  clusters.forEach((c, i) => {
    datasets.push({
      data: outline(i + 1, shapes[i]), showLine: true, fill: 'shape',
      backgroundColor: clusterColors[i], borderColor: '#222', borderWidth: 1,
      pointRadius: 0, tension: 0.2, order: 2
    });
    datasets.push({
      data: cellPoints(i + 1, dots[i], zeros[i]), showLine: false,
      pointRadius: 3.3, pointBackgroundColor: '#000', pointBorderWidth: 0, order: 1
    });
  });

  const tickGrid = { drawOnChartArea: false, tickLength: 7, tickColor: '#000', tickWidth: 1.5 };
  const axisBorder = { display: true, color: '#000', width: 1.5 };

  new Chart(canvas, {
    type: 'scatter',
    data: { datasets },
    options: {
      responsive: false, animation: false, devicePixelRatio: 1,
      layout: { padding: { left: 0, right: 4, top: 0, bottom: 0 }, autoPadding: false },
      plugins: {
        legend: { display: false }, tooltip: { enabled: false },
        title: {
          display: true, text: gene, fullSize: false, color: '#000',
          font: { size: 27, style: 'italic', weight: 'normal', lineHeight: 1 },
          padding: { top: 0, bottom: g.top - g.titleTop - 27 }
        }
      },
      scales: {
        x: {
          type: 'linear', min: 0.4, max: 3.6,
          afterBuildTicks: fixedTicks([1, 2, 3]),
          afterFit: s => { s.height = g.bottomEdge - g.axisY; },
          ticks: { display: g.xLabels, autoSkip: false, minRotation: 45, maxRotation: 45, padding: 1, color: '#000', font: { size: 26, lineHeight: 1 }, callback: v => clusters[Math.round(v) - 1] },
          grid: tickGrid, border: axisBorder,
          title: { display: g.xLabels, text: 'Cluster', color: '#000', font: { size: 26, lineHeight: 1 }, padding: { top: 0, bottom: g.clusterPad || 0 } }
        },
        y: {
          type: 'linear', min: g.min, max: g.max,
          afterBuildTicks: fixedTicks(yTicks),
          afterFit: s => { s.width = x0 - left; },
          ticks: { display: first, padding: 2, color: '#000', font: { size: 25, lineHeight: 1 }, callback: v => v.toFixed(1) },
          grid: tickGrid, border: axisBorder,
          title: { display: first, text: 'ln(CPM+1)', color: '#000', font: { size: 26, lineHeight: 1 }, padding: { top: 22, bottom: 0 } }
        }
      }
    }
  });
}

stripPanel(readsCells, 8, 563, [-138, 3638], readsTicks, 'Reads per cell (x1000)');
stripPanel(genesCells, 622, 1178, [-596, 15596], genesTicks, 'Genes detected per cell');
stripPanel(erccCells, 1237, 1792, [-4.1, 103.6], erccTicks, 'ERCC spike-in % per cell');

rows.forEach(row => row.genes.forEach((gene, col) => violinPanel(gene, col, row)));

addLetter('a', 6, 8);
addLetter('b', 618, 8);
addLetter('c', 1232, 8);
addLetter('d', 4, 257);
addLetter('e', 4, 713);
addLetter('f', 8, 1195);
</script>
</body>
</html>
